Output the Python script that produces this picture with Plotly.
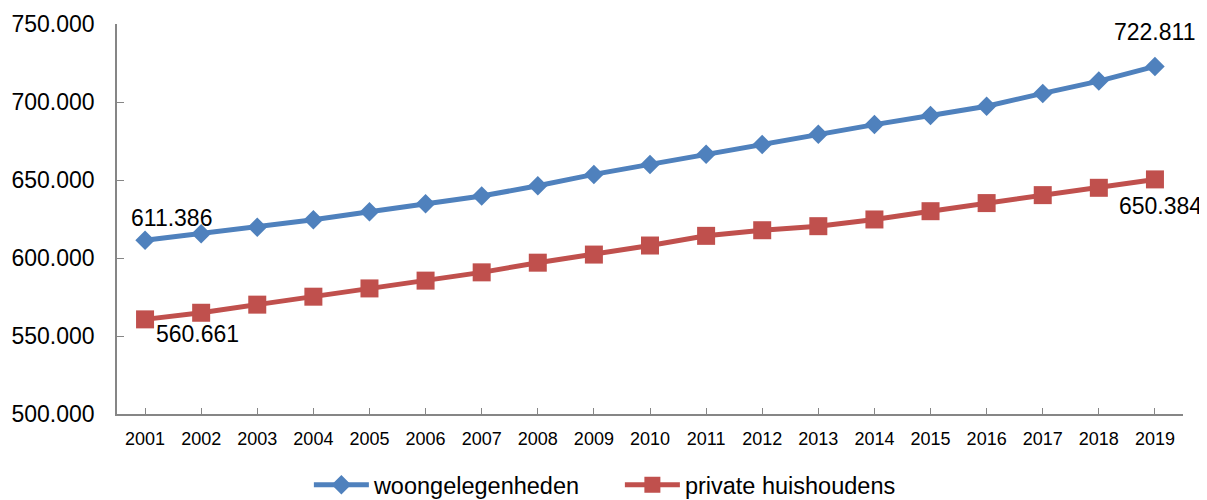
import plotly.graph_objects as go

years = list(range(2001, 2020))
woongelegenheden = [611386, 615500, 619700, 624500, 629600, 634800, 639700, 646300, 653600, 660000,
                    666500, 672700, 679300, 685500, 691300, 697300, 705500, 713400, 722811]
huishoudens = [560661, 564900, 570100, 575200, 580500, 585500, 590800, 597000, 602200, 608000,
               614200, 617800, 620400, 624700, 630000, 635200, 640300, 645000, 650384]
y_ticks = [500000, 550000, 600000, 650000, 700000, 750000]

BLUE = "#4F81BD"
RED = "#C0504D"
FONT = "Liberation Sans, Arial, sans-serif"


def fmt(v):
    return f"{v:,}".replace(",", ".")


fig = go.Figure()
fig.add_trace(go.Scatter(
    x=years, y=woongelegenheden, name="woongelegenheden", mode="lines+markers",
    line=dict(color=BLUE, width=5),
    marker=dict(symbol="diamond", size=15, color=BLUE),
    cliponaxis=False,
))
fig.add_trace(go.Scatter(
    x=years, y=huishoudens, name="private huishoudens", mode="lines+markers",
    line=dict(color=RED, width=5),
    marker=dict(symbol="square", size=18, color=RED),
    cliponaxis=False,
))

labels = [
    (years[0], woongelegenheden[0], 26, 22),
    (years[-1], woongelegenheden[-1], 0, 34),
    (years[0], huishoudens[0], 52, -15),
    (years[-1], huishoudens[-1], 6, -27),
]
for x, y, dx, dy in labels:
    fig.add_annotation(x=x, y=y, xref="x", yref="y", text=fmt(y), showarrow=False,
                       xshift=dx, yshift=dy,
                       font=dict(size=23, color="#000000", family=FONT))

fig.update_layout(
    width=1199, height=492,
    margin=dict(l=109, r=24, t=16, b=86, autoexpand=False),
    paper_bgcolor="white", plot_bgcolor="white",
    separators=",.",
    font=dict(family=FONT, color="#000000"),
    showlegend=True,
    legend=dict(orientation="h", x=0.18, xanchor="left", y=-0.182, yanchor="middle",
                font=dict(size=23.5), itemwidth=55, tracegroupgap=0,
                entrywidth=241, entrywidthmode="pixels"),
)
fig.update_xaxes(
    type="linear", range=[2000.5, 2019.5], tickvals=years, tickformat="d",
    showgrid=False, zeroline=False, showline=True, linecolor="#868686", linewidth=1.5,
    ticks="inside", ticklen=6, tickcolor="#868686", tickwidth=1.3,
    tickfont=dict(size=18), ticklabelstandoff=8, automargin=False,
)
fig.update_yaxes(
    range=[500000, 750000], tickvals=y_ticks, tickformat=",d", showgrid=False, zeroline=False,
    showline=True, linecolor="#868686", linewidth=1.5,
    ticks="inside", ticklen=7, tickcolor="#868686", tickwidth=1.3,
    tickfont=dict(size=23), ticklabelstandoff=16, automargin=False,
)

fig.write_html("out.html")
